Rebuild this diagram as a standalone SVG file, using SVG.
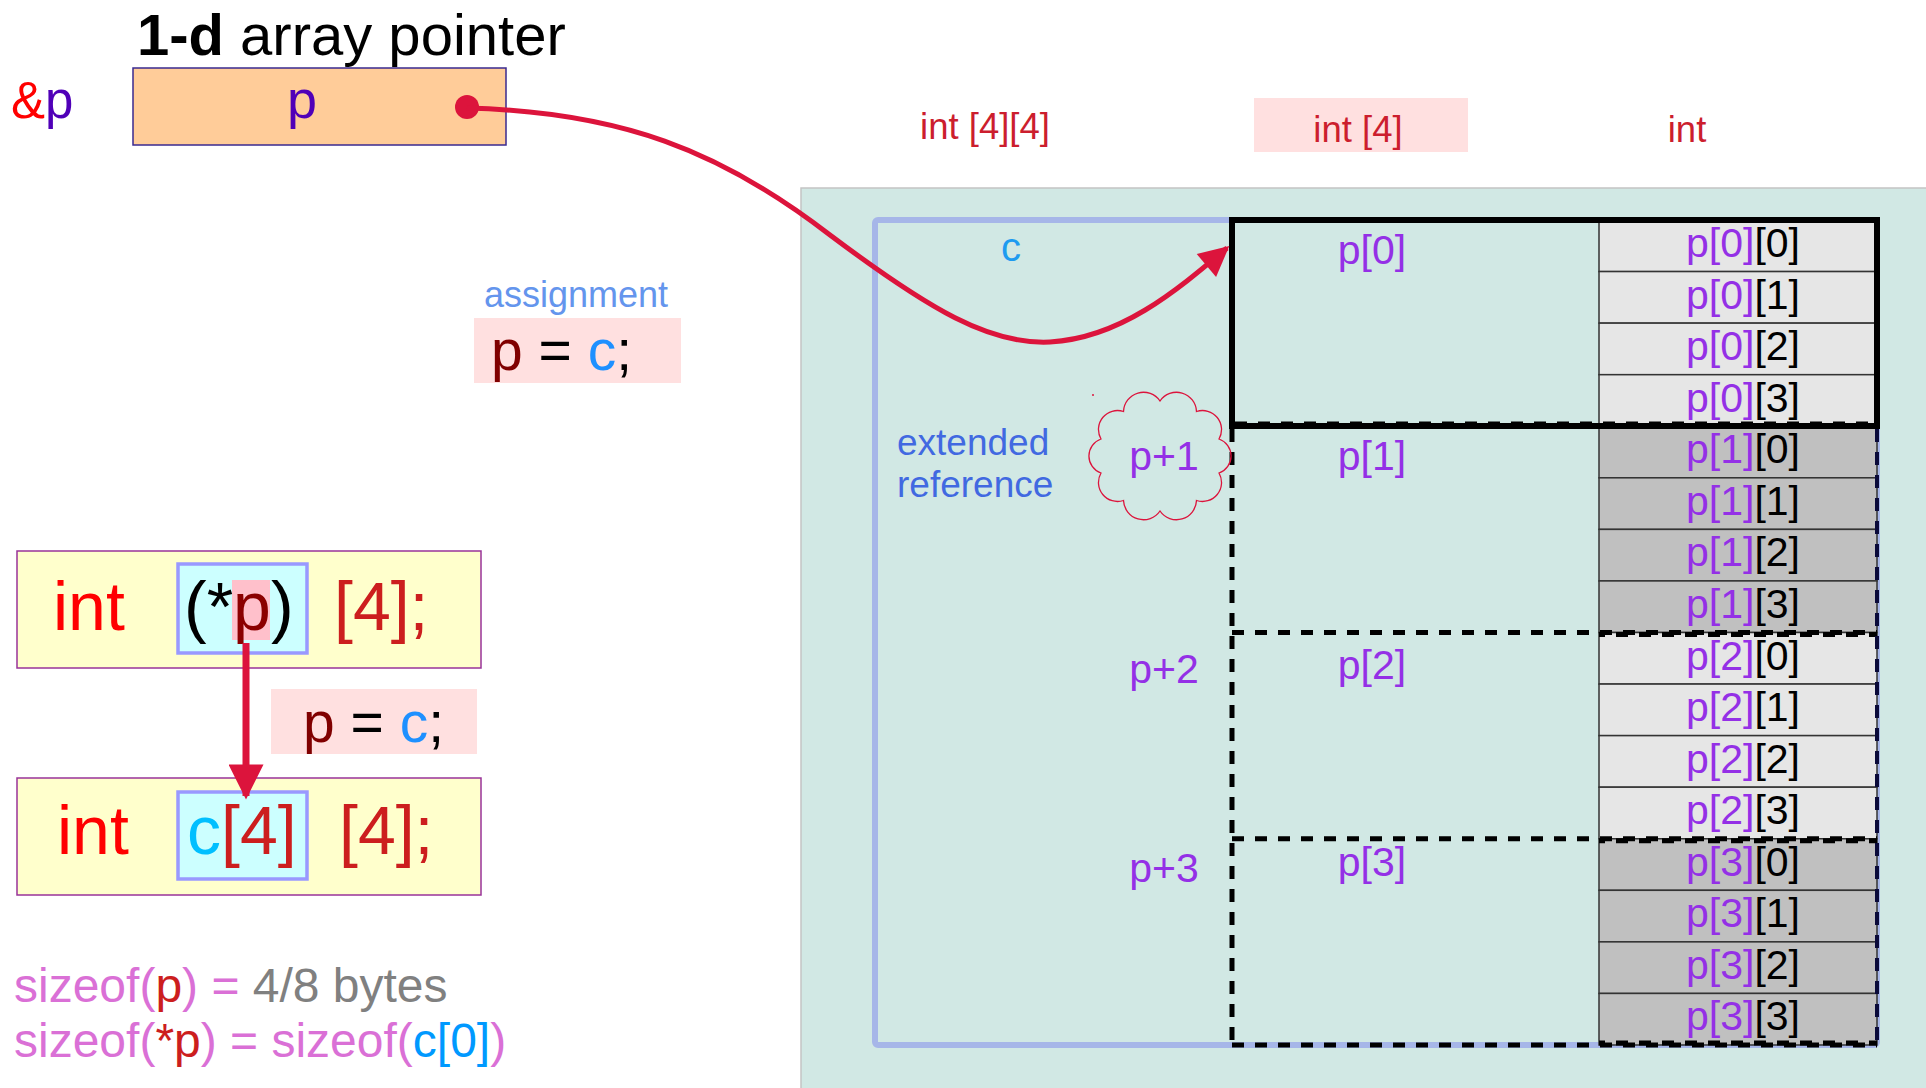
<svg xmlns="http://www.w3.org/2000/svg" width="1926" height="1088" viewBox="0 0 1926 1088">
  <style>
    text { font-family: "Liberation Sans", Arial, sans-serif; }
    .pu { fill: #9430e6; }
    .hdr { fill: #cc1e2e; font-size: 36.5px; text-anchor: middle; }
    .cell-txt { font-size: 41px; text-anchor: middle; fill: #000000; }
    .lbl { font-size: 41px; text-anchor: middle; fill: #9430e6; }
    .cellA { fill: #e6e6e6; stroke: #333333; stroke-width: 1.5; }
    .cellB { fill: #c0c0c0; stroke: #333333; stroke-width: 1.5; }
    .dash-h { fill: none; stroke: #000000; stroke-width: 5; stroke-dasharray: 12 11; }
    .dash-v { fill: none; stroke: #000000; stroke-width: 5; stroke-dasharray: 13 10; }
    .dash-edge { fill: none; stroke: #0a0a3a; stroke-width: 4; stroke-dasharray: 13 10; }
    .ybox { fill: #ffffcc; stroke: #993399; stroke-width: 1.5; }
    .cbox { fill: #ccffff; stroke: #9999ff; stroke-width: 3.5; }
    .code { font-size: 68px; }
    .pc { font-size: 57px; }
    .orc { fill: #da70d6; }
  </style>
  <defs>
    <marker id="arrowHead" viewBox="0 0 10 10" refX="9" refY="5" markerWidth="6.5" markerHeight="6" markerUnits="strokeWidth" orient="auto">
      <path d="M0,0 L10,5 L0,10 z" fill="#dc143c"/>
    </marker>
    <marker id="arrowHeadDown" viewBox="0 0 10 10" refX="9" refY="5" markerWidth="7" markerHeight="5" markerUnits="strokeWidth" orient="auto">
      <path d="M0,0 L10,5 L0,10 z" fill="#dc143c"/>
    </marker>
  </defs>

  <!-- title and pointer variable -->
  <g id="title">
    <text x="137" y="55" font-size="58" fill="#000000"><tspan font-weight="bold">1-d</tspan> array pointer</text>
  </g>
  <g id="pointer-p">
    <text x="11" y="118" font-size="51"><tspan fill="#ff0000">&amp;</tspan><tspan fill="#5000b8">p</tspan></text>
    <rect x="133" y="68" width="373" height="77" fill="#ffcc99" stroke="#3a2a90" stroke-width="1.5"/>
    <text x="302" y="118" font-size="54" text-anchor="middle" fill="#5000b8">p</text>
    <circle cx="467" cy="107" r="12" fill="#dc143c"/>
  </g>

  <!-- type headers -->
  <g id="headers">
    <text class="hdr" x="985" y="139">int [4][4]</text>
    <rect x="1254" y="98" width="214" height="54" fill="#ffe0e0"/>
    <text class="hdr" x="1358" y="142" font-size="37">int [4]</text>
    <text class="hdr" x="1687" y="142">int</text>
  </g>

  <!-- memory area -->
  <g id="memory-area">
    <rect x="801" y="188" width="1130" height="905" fill="#d1e8e4" stroke="#c4c4c4" stroke-width="1.5"/>
  </g>

  <!-- array c -->
  <g id="array-c">
    <rect x="875" y="220" width="1002" height="825" rx="3" fill="none" stroke="#a6b6e8" stroke-width="6"/>
    <text x="1011" y="261" font-size="40" text-anchor="middle" fill="#1e9bf0">c</text>
  </g>

  <!-- int cells -->
  <g id="cells">
    <rect class="cellA" x="1599" y="220" width="278" height="51.56"/>
    <rect class="cellA" x="1599" y="271.56" width="278" height="51.56"/>
    <rect class="cellA" x="1599" y="323.13" width="278" height="51.56"/>
    <rect class="cellA" x="1599" y="374.69" width="278" height="51.56"/>
    <rect class="cellB" x="1599" y="426.25" width="278" height="51.56"/>
    <rect class="cellB" x="1599" y="477.81" width="278" height="51.56"/>
    <rect class="cellB" x="1599" y="529.38" width="278" height="51.56"/>
    <rect class="cellB" x="1599" y="580.94" width="278" height="51.56"/>
    <rect class="cellA" x="1599" y="632.5" width="278" height="51.56"/>
    <rect class="cellA" x="1599" y="684.06" width="278" height="51.56"/>
    <rect class="cellA" x="1599" y="735.63" width="278" height="51.56"/>
    <rect class="cellA" x="1599" y="787.19" width="278" height="51.56"/>
    <rect class="cellB" x="1599" y="838.75" width="278" height="51.56"/>
    <rect class="cellB" x="1599" y="890.31" width="278" height="51.56"/>
    <rect class="cellB" x="1599" y="941.88" width="278" height="51.56"/>
    <rect class="cellB" x="1599" y="993.44" width="278" height="51.56"/>

    <text class="cell-txt" x="1743" y="257"><tspan class="pu">p[0]</tspan>[0]</text>
    <text class="cell-txt" x="1743" y="308.6"><tspan class="pu">p[0]</tspan>[1]</text>
    <text class="cell-txt" x="1743" y="360.1"><tspan class="pu">p[0]</tspan>[2]</text>
    <text class="cell-txt" x="1743" y="411.7"><tspan class="pu">p[0]</tspan>[3]</text>
    <text class="cell-txt" x="1743" y="463.3"><tspan class="pu">p[1]</tspan>[0]</text>
    <text class="cell-txt" x="1743" y="514.8"><tspan class="pu">p[1]</tspan>[1]</text>
    <text class="cell-txt" x="1743" y="566.4"><tspan class="pu">p[1]</tspan>[2]</text>
    <text class="cell-txt" x="1743" y="617.9"><tspan class="pu">p[1]</tspan>[3]</text>
    <text class="cell-txt" x="1743" y="669.5"><tspan class="pu">p[2]</tspan>[0]</text>
    <text class="cell-txt" x="1743" y="721.1"><tspan class="pu">p[2]</tspan>[1]</text>
    <text class="cell-txt" x="1743" y="772.6"><tspan class="pu">p[2]</tspan>[2]</text>
    <text class="cell-txt" x="1743" y="824.2"><tspan class="pu">p[2]</tspan>[3]</text>
    <text class="cell-txt" x="1743" y="875.8"><tspan class="pu">p[3]</tspan>[0]</text>
    <text class="cell-txt" x="1743" y="927.3"><tspan class="pu">p[3]</tspan>[1]</text>
    <text class="cell-txt" x="1743" y="978.9"><tspan class="pu">p[3]</tspan>[2]</text>
    <text class="cell-txt" x="1743" y="1030.4"><tspan class="pu">p[3]</tspan>[3]</text>
  </g>

  <!-- rows c[0]..c[3]: row 0 solid, rows 1-3 share dashed edges -->
  <g id="row-0">
    <rect x="1232" y="220" width="645" height="206" fill="none" stroke="#000000" stroke-width="6"/>
    <text class="lbl" x="1372" y="264">p[0]</text>
  </g>
  <g id="rows-1-3-outline">
    <path class="dash-h" d="M1232,632.5 H1877 M1232,838.75 H1877 M1232,1045 H1877"/>
    <path class="dash-h" d="M1599,634.5 H1877 M1599,840.75 H1877 M1599,1043 H1877" stroke-dashoffset="6" stroke-width="3"/>
    <path class="dash-h" d="M1235,424 H1877" stroke-width="3"/>
    <path class="dash-v" d="M1232,429 V1045"/>
    <path class="dash-edge" d="M1877,429 V1045"/>
  </g>
  <g id="row-1">
    <text class="lbl" x="1372" y="470">p[1]</text>
  </g>
  <g id="row-2">
    <text class="lbl" x="1372" y="679">p[2]</text>
  </g>
  <g id="row-3">
    <text class="lbl" x="1372" y="876">p[3]</text>
  </g>

  <!-- pointer offsets -->
  <g id="offset-1">
    <path d="M1160,401 A20,20 0 0 1 1196.5,411.5 A19,19 0 0 1 1219,439 A18,18 0 0 1 1219,473 A19,19 0 0 1 1196.5,500.5 A20,20 0 0 1 1160,511 A20,20 0 0 1 1123.5,500.5 A19,19 0 0 1 1101,473 A18,18 0 0 1 1101,439 A19,19 0 0 1 1123.5,411.5 A20,20 0 0 1 1160,401 Z" fill="none" stroke="#dc143c" stroke-width="1.3"/>
    <circle cx="1093" cy="395" r="1" fill="#dc143c"/>
    <text class="lbl" x="1164" y="470">p+1</text>
  </g>
  <g id="offset-2">
    <text class="lbl" x="1164" y="683">p+2</text>
  </g>
  <g id="offset-3">
    <text class="lbl" x="1164" y="882">p+3</text>
  </g>
  <g id="extended-reference">
    <text x="897" y="455" font-size="37" fill="#4169e1">extended</text>
    <text x="897" y="497" font-size="37" fill="#4169e1">reference</text>
  </g>

  <!-- assignment note -->
  <g id="assignment">
    <text x="484" y="307" font-size="36" fill="#6495ed">assignment</text>
    <rect x="474" y="318" width="207" height="65" fill="#ffe0e0"/>
    <text x="491" y="370" class="pc"><tspan fill="#800000">p</tspan> = <tspan fill="#1e90ff">c</tspan>;</text>
  </g>

  <!-- declarations -->
  <g id="decl-p">
    <rect class="ybox" x="17" y="551" width="464" height="117"/>
    <rect class="cbox" x="178" y="564" width="129" height="89"/>
    <rect x="232" y="580" width="38" height="60" fill="#ffc0cb"/>
    <text x="53" y="630" class="code" fill="#ff0000">int</text>
    <text x="184" y="630" class="code" fill="#000000">(*<tspan fill="#8b0000">p</tspan>)</text>
    <text x="334" y="630" class="code" fill="#cc1e1e">[4];</text>
  </g>
  <g id="decl-c">
    <rect class="ybox" x="17" y="778" width="464" height="117"/>
    <rect class="cbox" x="178" y="792" width="129" height="87"/>
    <text x="57" y="854" class="code" fill="#ff0000">int</text>
    <text x="187" y="854" class="code"><tspan fill="#00bfff">c</tspan><tspan fill="#cc1e1e">[4]</tspan></text>
    <text x="339" y="854" class="code" fill="#cc1e1e">[4];</text>
  </g>
  <g id="assign-note">
    <rect x="271" y="689" width="206" height="65" fill="#ffe0e0"/>
    <text x="303" y="742" class="pc"><tspan fill="#800000">p</tspan> = <tspan fill="#1e90ff">c</tspan>;</text>
  </g>

  <!-- sizeof notes -->
  <g id="sizeof">
    <text x="14" y="1002" font-size="48"><tspan class="orc">sizeof(</tspan><tspan fill="#cc1e1e">p</tspan><tspan class="orc">) = </tspan><tspan fill="#808080">4/8 bytes</tspan></text>
    <text x="14" y="1057" font-size="48"><tspan class="orc">sizeof(</tspan><tspan fill="#cc1e1e">*p</tspan><tspan class="orc">) = sizeof(</tspan><tspan fill="#0099ff">c[0]</tspan><tspan class="orc">)</tspan></text>
  </g>

  <!-- connectors -->
  <g id="connectors">
    <path d="M467,108 C620,112 720,150 830,235 C930,310 990,345 1050,342 C1120,338 1175,292 1227,248" fill="none" stroke="#dc143c" stroke-width="5" marker-end="url(#arrowHead)"/>
    <path d="M246,643 L246,796" fill="none" stroke="#dc143c" stroke-width="7" marker-end="url(#arrowHeadDown)"/>
  </g>
</svg>
